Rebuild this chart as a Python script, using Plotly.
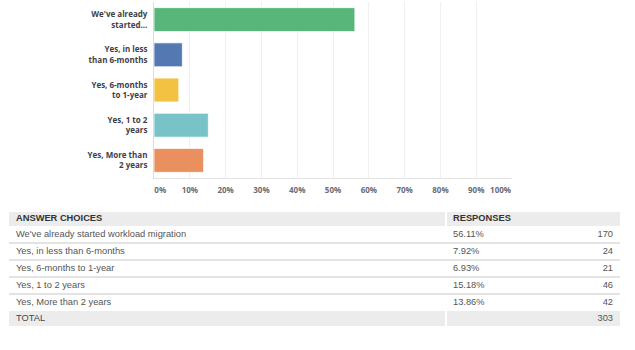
import plotly.graph_objects as go

W, H = 635, 350

# ---- data ----
chart_labels = [
    "We've already<br>started...",
    "Yes, in less<br>than 6-months",
    "Yes, 6-months<br>to 1-year",
    "Yes, 1 to 2<br>years",
    "Yes, More than<br>2 years",
]
answer_choices = [
    "We've already started workload migration",
    "Yes, in less than 6-months",
    "Yes, 6-months to 1-year",
    "Yes, 1 to 2 years",
    "Yes, More than 2 years",
]
percentages = [56.11, 7.92, 6.93, 15.18, 13.86]
counts = [170, 24, 21, 46, 42]
total_count = 303
tick_values = [0, 10, 20, 30, 40, 50, 60, 70, 80, 90, 100]
tick_labels = [f"{v}%" for v in tick_values]
header_labels = ["ANSWER CHOICES", "RESPONSES"]
total_label = "TOTAL"

# ---- styles ----
bar_colors = ["#58b67b", "#5479b2", "#f3c243", "#78c3c7", "#ea8f5e"]
NB = "\u00a0"
tick_text = list(tick_labels)
tick_text[0] = NB * 6 + tick_text[0]
tick_text[-1] = tick_text[-1] + NB * 11

# chart geometry (pixels)
cx0, cx1, cy0, cy1 = 154, 512, 2, 178
# table geometry (pixels)
tx0, tsplit, tx1 = 9, 446, 620
header_top, header_h, row_h, total_h = 212, 14, 17, 15
body_tops = [header_top + header_h + i * row_h for i in range(len(answer_choices))]
total_top = header_top + header_h + len(answer_choices) * row_h
table_bottom = total_top + total_h

header_c = header_top + header_h / 2
body_c = [t + row_h / 2 for t in body_tops]
total_c = total_top + total_h / 2
row_centers = [header_c] + body_c + [total_c]

fig = go.Figure()

fig.add_trace(go.Bar(
    x=percentages, y=chart_labels, orientation="h",
    marker=dict(color=bar_colors, line=dict(color="rgba(255,255,255,0.75)", width=1)),
    xaxis="x", yaxis="y", hoverinfo="skip", showlegend=False,
))

tfont = "Liberation Sans, Arial, sans-serif"
tsize = 9.3
col1_text = [f"<b>{header_labels[0]}</b>"] + answer_choices + [total_label]
col1_colors = ["#333333"] + ["#555555"] * len(answer_choices) + ["#444444"]
fig.add_trace(go.Scatter(
    x=[16] * len(col1_text), y=row_centers, text=col1_text, mode="text",
    textposition="middle right", textfont=dict(family=tfont, size=tsize, color=col1_colors),
    xaxis="x2", yaxis="y2", hoverinfo="skip", showlegend=False, cliponaxis=False,
))
col2_text = [f"<b>{header_labels[1]}</b>"] + [f"{p:.2f}%" for p in percentages]
col2_colors = ["#333333"] + ["#555555"] * len(percentages)
fig.add_trace(go.Scatter(
    x=[453] * len(col2_text), y=row_centers[:len(col2_text)], text=col2_text, mode="text",
    textposition="middle right", textfont=dict(family=tfont, size=tsize, color=col2_colors),
    xaxis="x2", yaxis="y2", hoverinfo="skip", showlegend=False, cliponaxis=False,
))
col3_text = [str(c) for c in counts] + [str(total_count)]
fig.add_trace(go.Scatter(
    x=[613] * len(col3_text), y=row_centers[1:], text=col3_text, mode="text",
    textposition="middle left", textfont=dict(family=tfont, size=tsize, color="#555555"),
    xaxis="x2", yaxis="y2", hoverinfo="skip", showlegend=False, cliponaxis=False,
))

shapes = []
fill = "#ececec"
for (y0, y1) in [(header_top, header_top + header_h), (total_top, table_bottom)]:
    shapes.append(dict(type="rect", xref="x2", yref="y2", x0=tx0, x1=tsplit - 1, y0=y0, y1=y1,
                       fillcolor=fill, line=dict(width=0), layer="below"))
    shapes.append(dict(type="rect", xref="x2", yref="y2", x0=tsplit + 1, x1=tx1, y0=y0, y1=y1,
                       fillcolor=fill, line=dict(width=0), layer="below"))
for t in body_tops[1:]:
    shapes.append(dict(type="line", xref="x2", yref="y2", x0=tx0, x1=tx1, y0=t, y1=t,
                       line=dict(color="#e3e3e3", width=2), layer="below"))

cfont = "Open Sans, Arial, sans-serif"
fig.update_layout(
    template="none", autosize=False,
    width=W, height=H, margin=dict(l=0, r=0, t=0, b=0, pad=0),
    paper_bgcolor="white", plot_bgcolor="rgba(0,0,0,0)",
    bargap=0.32, showlegend=False, shapes=shapes,
    xaxis=dict(domain=[cx0 / W, cx1 / W], range=[0, 100], tickvals=tick_values, ticktext=tick_text,
               showgrid=True, gridcolor="#efefef", gridwidth=1, zeroline=False, automargin=False,
               showline=True, linecolor="#e3e3e3", linewidth=1, ticks="", ticklabelstandoff=4,
               tickfont=dict(family=cfont, size=8, color="#6b6b75", weight="bold"), fixedrange=True),
    yaxis=dict(domain=[1 - cy1 / H, 1 - cy0 / H], autorange="reversed", type="category",
               showline=True, linecolor="#dcdcdc", linewidth=1, ticks="", ticklabelstandoff=4,
               showgrid=False, automargin=False,
               tickfont=dict(family=cfont, size=8, color="#3e3e48", weight="bold"),
               fixedrange=True),
    xaxis2=dict(domain=[tx0 / W, tx1 / W], range=[tx0, tx1], visible=False, fixedrange=True,
                automargin=False),
    yaxis2=dict(domain=[1 - table_bottom / H, 1 - header_top / H], range=[table_bottom, header_top],
                visible=False, fixedrange=True, automargin=False),
)

fig.write_html(
    "out.html",
    config={"displayModeBar": False, "responsive": False},
    default_width=f"{W}px", default_height=f"{H}px",
    post_script=(
        "document.body.style.margin='0px';document.body.style.overflow='hidden';"
        "var gd=document.getElementById('{plot_id}');"
        "Plotly.relayout(gd,{width:%d,height:%d});" % (W, H)
    ),
)
